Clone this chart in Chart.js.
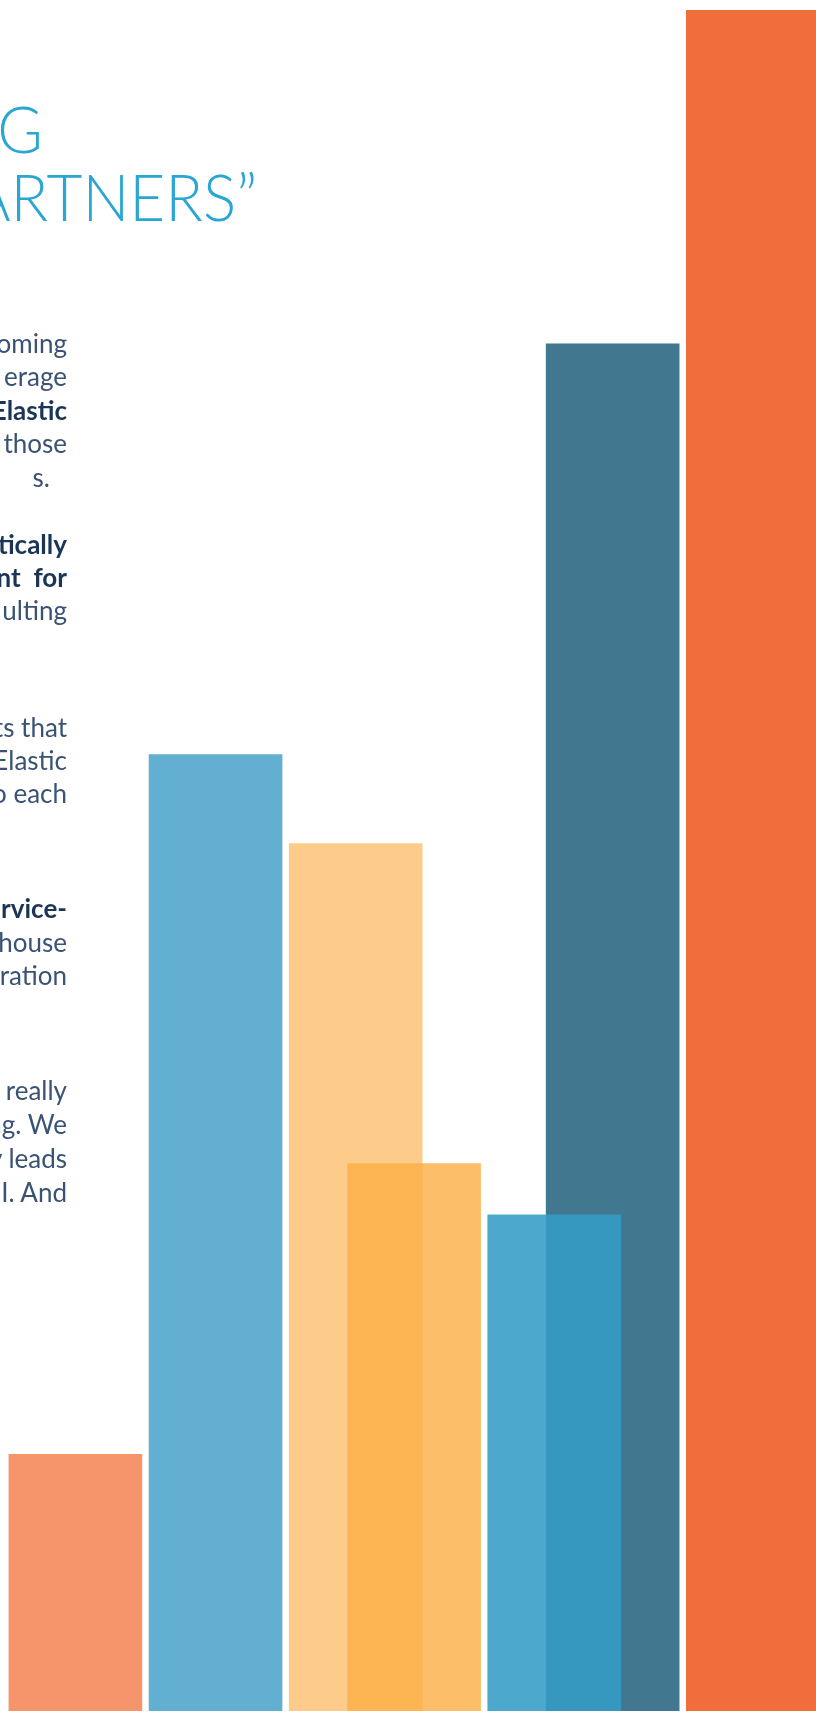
<!DOCTYPE html>
<html>
<head>
<meta charset="utf-8">
<script src="https://cdn.jsdelivr.net/npm/chart.js@4.4.1/dist/chart.umd.min.js"></script>
<style>
  html, body { margin: 0; padding: 0; background: #fff; }
  body { width: 816px; height: 1712px; overflow: hidden; position: relative; font-family: Lato, "Open Sans", sans-serif; }
  #wrap { position: absolute; left: 0; top: 0; width: 816px; height: 1712px; }
  .title { position: absolute; color: #2aa6d2; font-weight: 300; font-size: 65px; line-height: 68px; white-space: nowrap; text-align: right; transform: scaleX(0.955); transform-origin: right center; }
  .ln { position: absolute; right: 749px; color: #3a5375; font-size: 26px; line-height: 34px; white-space: nowrap; text-align: right; }
  .ln.b { color: #1b3556; font-weight: 700; }
</style>
</head>
<body>
<div id="wrap"><canvas id="myChart"></canvas></div>
<div id="copy"></div>
<script>
// bars, left to right: back row sits behind, front row overlaps it
var backLabels = ['Bar 1', 'Bar 2', 'Bar 3', 'Bar 6', 'Bar 7'];
var backSlots  = [0, 12, 24, 46, 58];
var backValues = [15, 55.9, 50.7, 79.9, 99.4];

var frontLabels = ['Bar 4', 'Bar 5'];
var frontSlots  = [29, 41];
var frontValues = [32, 29];

var backColors  = ['#f6956c', '#62afd2', '#fdcc8a', '#41778f', '#f26d3c'];
var frontColors = ['rgba(253,174,68,0.8)', 'rgba(52,156,198,0.88)'];

// cut-off copy down the left edge
var titleLines = [
  { t: 'G', top: 94, right: 773 },
  { t: 'PARTNERS\u201D', top: 162, right: 559 }
];
var bodyLines = [
  { t: 'oming', base: 353 },
  { t: 'erage', base: 386 },
  { t: 'Elastic', base: 420, bold: true },
  { t: 'those', base: 453 },
  { t: 's.', base: 487, right: 766 },
  { t: 'tically', base: 554, bold: true },
  { t: 'nt\u00A0\u00A0for', base: 587, bold: true },
  { t: 'ulting', base: 620 },
  { t: 'ts that', base: 737 },
  { t: 'Elastic', base: 770 },
  { t: 'to each', base: 803 },
  { t: 'rvice-', base: 918, bold: true },
  { t: 'house', base: 952 },
  { t: 'ration', base: 985 },
  { t: 'really', base: 1100 },
  { t: 'ng. We', base: 1134 },
  { t: 'ly leads', base: 1168 },
  { t: 'ROI. And', base: 1202 }
];

var copy = document.getElementById('copy');
titleLines.forEach(function (l) {
  var d = document.createElement('div');
  d.className = 'title';
  d.style.top = l.top + 'px';
  d.style.right = l.right + 'px';
  d.textContent = l.t;
  copy.appendChild(d);
});
bodyLines.forEach(function (l) {
  var d = document.createElement('div');
  d.className = 'ln' + (l.bold ? ' b' : '');
  d.style.top = (l.base - 27) + 'px';
  if (l.right) d.style.right = l.right + 'px';
  d.textContent = l.t;
  copy.appendChild(d);
});

function toPoints(xs, ys) {
  var pts = [];
  for (var i = 0; i < xs.length; i++) pts.push({ x: xs[i], y: ys[i] });
  return pts;
}

var ctx = document.getElementById('myChart').getContext('2d');
var chart = new Chart(ctx, {
  type: 'bar',
  data: {
    datasets: [{
      label: 'Front row',
      data: toPoints(frontSlots, frontValues),
      backgroundColor: frontColors,
      borderWidth: 0,
      order: 0
    }, {
      label: 'Back row',
      data: toPoints(backSlots, backValues),
      backgroundColor: backColors,
      borderWidth: 0,
      order: 1
    }]
  },
  options: {
    responsive: true,
    maintainAspectRatio: false,
    animation: false,
    events: [],
    layout: { padding: { bottom: 1 } },
    datasets: { bar: { grouped: false, barThickness: 133 } },
    scales: {
      x: { type: 'linear', min: -6.455, max: 63.41, offset: false, display: false },
      y: { min: 0, max: 100, display: false }
    },
    plugins: { legend: { display: false }, tooltip: { enabled: false } }
  }
});
</script>
</body>
</html>
